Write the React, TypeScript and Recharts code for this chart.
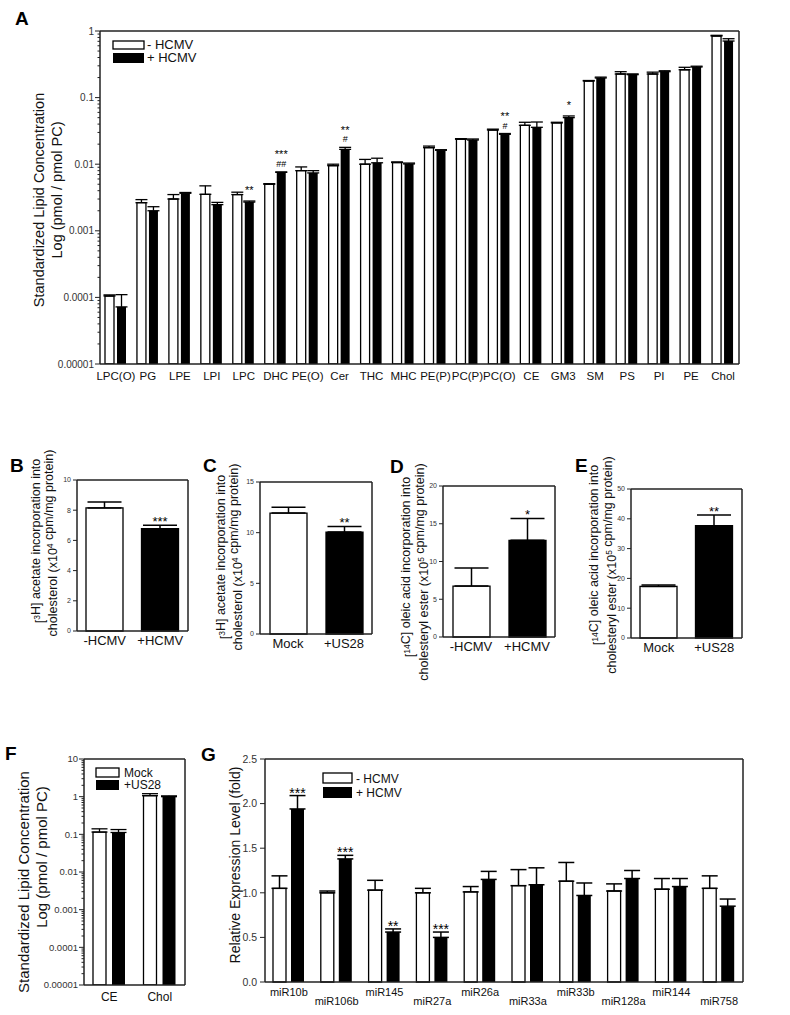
import React from 'react';
import { BarChart, Bar, XAxis, YAxis, ErrorBar, LabelList, Cell, CartesianGrid } from 'recharts';

const FONT = '"Liberation Sans", Arial, Helvetica, sans-serif';
const AXIS = '#222';
const LOG_MIN = 0.00001;

// A: lipid classes, pmol / pmol PC (log)
const lipidClasses = ['LPC(O)', 'PG', 'LPE', 'LPI', 'LPC', 'DHC', 'PE(O)', 'Cer', 'THC', 'MHC', 'PE(P)', 'PC(P)', 'PC(O)', 'CE', 'GM3', 'SM', 'PS', 'PI', 'PE', 'Chol'];
const lipidMock = [0.000105, 0.00264, 0.003, 0.00353, 0.0035, 0.005, 0.008, 0.0095, 0.01, 0.0106, 0.0177, 0.0237, 0.0326, 0.0384, 0.0416, 0.1775, 0.226, 0.226, 0.262, 0.841];
const lipidMockErr = [0.000004, 0.0003, 0.0005, 0.0012, 0.0003, 0.0001, 0.0011, 0.0005, 0.0018, 0.0002, 0.001, 0.0005, 0.001, 0.0042, 0.001, 0.003, 0.019, 0.015, 0.023, 0.02];
const lipidHcmv = [0.000072, 0.002, 0.00366, 0.00247, 0.0027, 0.00755, 0.0074, 0.0167, 0.0105, 0.0101, 0.0162, 0.0231, 0.0281, 0.0358, 0.05, 0.197, 0.221, 0.245, 0.288, 0.707];
const lipidHcmvErr = [0.000038, 0.0003, 0.0001, 0.0002, 0.0001, 0.0001, 0.0006, 0.0012, 0.0018, 0.0003, 0.0003, 0.0008, 0.0008, 0.0072, 0.003, 0.006, 0.006, 0.008, 0.008, 0.059];
const lipidStars = ['', '', '', '', '**', '***', '', '**', '', '', '', '', '**', '', '*', '', '', '', '', ''];
const lipidHash = ['', '', '', '', '', '##', '', '#', '', '', '', '', '#', '', '', '', '', '', '', ''];
const lipidDecades = [0.00001, 0.0001, 0.001, 0.01, 0.1, 1];

// B-E: radiolabel incorporation
const hcmvGroups = ['-HCMV', '+HCMV'];
const us28Groups = ['Mock', '+US28'];
const acetateHcmv = [8.15, 6.77];
const acetateHcmvErr = [0.4, 0.23];
const acetateHcmvStars = ['', '***'];
const acetateUs28 = [11.93, 10.06];
const acetateUs28Err = [0.57, 0.55];
const acetateUs28Stars = ['', '**'];
const oleicHcmv = [6.75, 12.8];
const oleicHcmvErr = [2.4, 2.9];
const oleicHcmvStars = ['', '*'];
const oleicUs28 = [17.3, 37.7];
const oleicUs28Err = [0.5, 3.6];
const oleicUs28Stars = ['', '**'];

// F: US28 lipids
const us28Lipids = ['CE', 'Chol'];
const us28Mock = [0.115, 1.06];
const us28MockErr = [0.025, 0.14];
const us28Pos = [0.112, 1.0];
const us28PosErr = [0.022, 0.05];
const us28Decades = [0.00001, 0.0001, 0.001, 0.01, 0.1, 1, 10];

// G: miRNA expression
const mirs = ['miR10b', 'miR106b', 'miR145', 'miR27a', 'miR26a', 'miR33a', 'miR33b', 'miR128a', 'miR144', 'miR758'];
const mirMock = [1.05, 1.0, 1.03, 1.0, 1.01, 1.08, 1.13, 1.02, 1.04, 1.05];
const mirMockErr = [0.14, 0.02, 0.11, 0.05, 0.06, 0.18, 0.21, 0.08, 0.12, 0.14];
const mirHcmv = [1.94, 1.38, 0.56, 0.5, 1.15, 1.09, 0.97, 1.16, 1.07, 0.85];
const mirHcmvErr = [0.15, 0.04, 0.035, 0.06, 0.09, 0.19, 0.14, 0.09, 0.09, 0.08];
const mirStars = ['***', '***', '**', '***', '', '', '', '', '', ''];
const mirTicks = [0, 0.5, 1, 1.5, 2, 2.5];

const withMinorTicks = (decades: number[]) => {
  const out: number[] = [];
  decades.forEach((d, i) => {
    out.push(d);
    if (i < decades.length - 1) for (let k = 2; k < 10; k++) out.push(d * k);
  });
  return out;
};

const fmtLog = (v: number) => {
  const e = Math.round(Math.log10(v));
  return e >= 0 ? String(Math.round(v)) : v.toFixed(-e);
};

function LogTick({ x, y, payload, fontSize }: any) {
  const v = payload.value;
  const e = Math.log10(v);
  const major = Math.abs(e - Math.round(e)) < 1e-6;
  return (
    <g>
      <line x1={x - (major ? 5 : 2.5)} x2={x} y1={y} y2={y} stroke={AXIS} strokeWidth={1} />
      {major && (
        <text x={x - 6} y={y} dy="0.35em" textAnchor="end" fontSize={fontSize} fill="#333">
          {fmtLog(v)}
        </text>
      )}
    </g>
  );
}

function StaggerTick({ x, y, payload, index }: any) {
  const i = index ?? payload.index;
  return (
    <text x={x} y={y + (i % 2 ? 23 : 14)} textAnchor="middle" fontSize={11} fill="#111">
      {payload.value}
    </text>
  );
}

// star / hash annotations sitting above the upper error cap
const sigContent =
  (vals: number[], errs: number[], stars: string[], hashes: string[] | null, o: { log?: boolean; fs: number; lift: number }) =>
  (props: any) => {
    const i = props.index;
    const s = stars[i];
    const h = hashes ? hashes[i] : '';
    if (!s && !h) return null;
    const vb = props.viewBox ?? props;
    const { x, y, width, height } = vb;
    const v = vals[i];
    const e = errs[i];
    const top = o.log
      ? y - ((Math.log10(v + e) - Math.log10(v)) * height) / (Math.log10(v) - Math.log10(LOG_MIN))
      : y - (e / v) * height;
    const cx = x + width / 2;
    const hashY = top - 5;
    const starY = h ? hashY - 8.5 : top + o.lift;
    return (
      <g>
        {h && (
          <text x={cx} y={hashY} textAnchor="middle" fontSize={9} fill="#000">
            {h}
          </text>
        )}
        {s && (
          <text x={cx} y={starY} textAnchor="middle" fontSize={o.fs} fill="#000">
            {s}
          </text>
        )}
      </g>
    );
  };

const frame = { stroke: AXIS, strokeWidth: 1.5 };

// top and right edges of the plot box
const Frame = () => (
  <CartesianGrid
    stroke={AXIS}
    strokeWidth={1.5}
    strokeDasharray=""
    horizontalCoordinatesGenerator={({ offset }: any) => [offset.top]}
    verticalCoordinatesGenerator={({ offset }: any) => [offset.left + offset.width]}
  />
);

function LipidPanel() {
  const data = lipidClasses.map((name, i) => ({
    name,
    mock: lipidMock[i],
    mockErr: [0, lipidMockErr[i]],
    hcmv: lipidHcmv[i],
    hcmvErr: [0, lipidHcmvErr[i]],
  }));
  return (
    <BarChart width={745} height={400} data={data} margin={{ top: 31, right: 6, left: 0, bottom: 0 }} barSize={9} barGap={3}>
      {Frame()}
      <XAxis dataKey="name" interval={0} height={36} tickSize={0} tickMargin={8} tickLine={false} axisLine={frame} tick={{ fontSize: 11.5, fill: '#111' }} />
      <YAxis
        scale="log"
        domain={[LOG_MIN, 1]}
        allowDataOverflow
        ticks={withMinorTicks(lipidDecades)}
        interval={0}
        width={100}
        tickSize={0}
        tickMargin={0}
        tickLine={false}
        axisLine={frame}
        tick={(p: any) => <LogTick {...p} fontSize={10} />}
      />
      <Bar dataKey="mock" fill="#fff" stroke="#000" strokeWidth={1.3} isAnimationActive={false}>
        <ErrorBar dataKey="mockErr" width={6} stroke="#000" strokeWidth={1.3} direction="y" />
      </Bar>
      <Bar dataKey="hcmv" fill="#000" isAnimationActive={false}>
        <ErrorBar dataKey="hcmvErr" width={6} stroke="#000" strokeWidth={1.3} direction="y" />
        <LabelList dataKey="hcmv" content={sigContent(lipidHcmv, lipidHcmvErr, lipidStars, lipidHash, { log: true, fs: 11, lift: -7 })} />
      </Bar>
    </BarChart>
  );
}

function IncorporationPanel({ width, height, margin, yWidth, xHeight, groups, vals, errs, stars, ticks }: any) {
  const data = groups.map((name: string, i: number) => ({ name, v: vals[i], err: [0, errs[i]] }));
  const max = ticks[ticks.length - 1];
  return (
    <BarChart width={width} height={height} data={data} margin={margin} barSize={37}>
      {Frame()}
      <XAxis dataKey="name" height={xHeight} tickSize={0} tickMargin={5} tickLine={false} axisLine={frame} tick={{ fontSize: 13, fill: '#111' }} />
      <YAxis
        domain={[0, max]}
        ticks={ticks}
        interval={0}
        width={yWidth}
        tickSize={4}
        tickMargin={2}
        axisLine={frame}
        tickLine={{ stroke: AXIS }}
        tick={{ fontSize: 7, fill: '#333' }}
      />
      <Bar dataKey="v" stroke="#000" strokeWidth={1.3} isAnimationActive={false}>
        {data.map((_: any, i: number) => (
          <Cell key={i} fill={i === 0 ? '#fff' : '#000'} />
        ))}
        <ErrorBar dataKey="err" width={17} stroke="#000" strokeWidth={1.5} direction="y" />
        <LabelList dataKey="v" content={sigContent(vals, errs, stars, null, { fs: 13, lift: 1 })} />
      </Bar>
    </BarChart>
  );
}

function Us28LipidPanel() {
  const data = us28Lipids.map((name, i) => ({
    name,
    mock: us28Mock[i],
    mockErr: [0, us28MockErr[i]],
    us28: us28Pos[i],
    us28Err: [0, us28PosErr[i]],
  }));
  return (
    <BarChart width={195} height={275} data={data} margin={{ top: 19, right: 10, left: 0, bottom: 0 }} barSize={13} barGap={6}>
      {Frame()}
      <XAxis dataKey="name" height={30} tickSize={0} tickMargin={7} tickLine={false} axisLine={frame} tick={{ fontSize: 12, fill: '#111' }} />
      <YAxis
        scale="log"
        domain={[LOG_MIN, 10]}
        allowDataOverflow
        ticks={withMinorTicks(us28Decades)}
        interval={0}
        width={84}
        tickSize={0}
        tickMargin={0}
        tickLine={false}
        axisLine={frame}
        tick={(p: any) => <LogTick {...p} fontSize={9.5} />}
      />
      <Bar dataKey="mock" fill="#fff" stroke="#000" strokeWidth={1.3} isAnimationActive={false}>
        <ErrorBar dataKey="mockErr" width={8} stroke="#000" strokeWidth={1.3} direction="y" />
      </Bar>
      <Bar dataKey="us28" fill="#000" isAnimationActive={false}>
        <ErrorBar dataKey="us28Err" width={8} stroke="#000" strokeWidth={1.3} direction="y" />
      </Bar>
    </BarChart>
  );
}

function MirPanel() {
  const data = mirs.map((name, i) => ({
    name,
    mock: mirMock[i],
    mockErr: [0, mirMockErr[i]],
    hcmv: mirHcmv[i],
    hcmvErr: [0, mirHcmvErr[i]],
  }));
  return (
    <BarChart width={550} height={275} data={data} margin={{ top: 19, right: 7, left: 0, bottom: 0 }} barSize={13} barGap={5}>
      {Frame()}
      <XAxis dataKey="name" interval={0} height={33} tickSize={0} tickMargin={0} tickLine={false} axisLine={frame} tick={(p: any) => <StaggerTick {...p} />} />
      <YAxis
        domain={[0, 2.5]}
        ticks={mirTicks}
        interval={0}
        width={65}
        tickSize={5}
        tickMargin={3}
        axisLine={frame}
        tickLine={{ stroke: AXIS }}
        tickFormatter={(v: number) => v.toFixed(1)}
        tick={{ fontSize: 10.5, fill: '#333' }}
      />
      <Bar dataKey="mock" fill="#fff" stroke="#000" strokeWidth={1.3} isAnimationActive={false}>
        <ErrorBar dataKey="mockErr" width={8} stroke="#000" strokeWidth={1.5} direction="y" />
      </Bar>
      <Bar dataKey="hcmv" fill="#000" isAnimationActive={false}>
        <ErrorBar dataKey="hcmvErr" width={8} stroke="#000" strokeWidth={1.5} direction="y" />
        <LabelList dataKey="hcmv" content={sigContent(mirHcmv, mirHcmvErr, mirStars, null, { fs: 14, lift: 2 })} />
      </Bar>
    </BarChart>
  );
}

function VTitle({ x, y, fs, children }: any) {
  return (
    <text transform={`translate(${x},${y}) rotate(-90)`} textAnchor="middle" fontSize={fs} fill="#111">
      {children}
    </text>
  );
}

const Sup = ({ t, fs }: { t: string; fs: number }) => (
  <>
    <tspan dy={-fs * 0.35} fontSize={fs * 0.68}>
      {t}
    </tspan>
    <tspan dy={fs * 0.35}>{''}</tspan>
  </>
);

function Overlay() {
  const letter = (t: string, x: number, y: number) => (
    <text x={x} y={y} fontSize={19} fontWeight="bold" fill="#000">
      {t}
    </text>
  );
  const legend = (x: number, y: number, w: number, h1: number, gap: number, h2: number, labels: string[], fs: number, tx: number) => (
    <g>
      <rect x={x} y={y} width={w} height={h1} fill="#fff" stroke="#000" strokeWidth={1.3} />
      <rect x={x} y={y + h1 + gap} width={w} height={h2} fill="#000" />
      <text x={tx} y={y + h1} fontSize={fs} fill="#111">
        {labels[0]}
      </text>
      <text x={tx} y={y + h1 + gap + h2 - 1} fontSize={fs} fill="#111">
        {labels[1]}
      </text>
    </g>
  );
  const T = 12.5;
  return (
    <svg width={790} height={1015} style={{ position: 'absolute', left: 0, top: 0, pointerEvents: 'none' }}>
      {letter('A', 15, 25)}
      {letter('B', 10, 472)}
      {letter('C', 203, 472)}
      {letter('D', 390, 473)}
      {letter('E', 575, 472)}
      {letter('F', 5, 760)}
      {letter('G', 201, 761)}

      <VTitle x={44} y={200} fs={14.5}>Standardized Lipid Concentration</VTitle>
      <VTitle x={62} y={190} fs={14.5}>Log (pmol / pmol PC)</VTitle>

      <VTitle x={44} y={541} fs={T}>
        [<Sup t="3" fs={T} />H] acetate incorporation into
      </VTitle>
      <VTitle x={57} y={543} fs={T}>
        cholesterol (x10<Sup t="4" fs={T} /> cpm/mg protein)
      </VTitle>
      <VTitle x={229} y={557} fs={T}>
        [<Sup t="3" fs={T} />H] acetate incorporation into
      </VTitle>
      <VTitle x={242} y={557} fs={T}>
        cholesterol (x10<Sup t="4" fs={T} /> cpm/mg protein)
      </VTitle>
      <VTitle x={414} y={567} fs={T}>
        [<Sup t="14" fs={T} />C] oleic acid incorporation into
      </VTitle>
      <VTitle x={428} y={572} fs={T}>
        cholesteryl ester (x10<Sup t="5" fs={T} /> cpm/mg protein)
      </VTitle>
      <VTitle x={602} y={555} fs={T}>
        [<Sup t="14" fs={T} />C] oleic acid incorporation into
      </VTitle>
      <VTitle x={616} y={565} fs={T}>
        cholesteryl ester (x10<Sup t="5" fs={T} /> cpm/mg protein)
      </VTitle>

      <VTitle x={29} y={882} fs={15}>Standardized Lipid Concentration</VTitle>
      <VTitle x={47} y={857} fs={15}>Log (pmol / pmol PC)</VTitle>
      <VTitle x={240} y={865} fs={14}>Relative Expression Level (fold)</VTitle>

      {legend(113, 41, 31, 8, 4, 10, ['- HCMV', '+ HCMV'], 13, 147)}
      {legend(96, 768, 23, 9, 3, 10, ['Mock', '+US28'], 12, 124)}
      {legend(323, 773, 29, 10, 4, 11, ['- HCMV', '+ HCMV'], 12, 356)}
    </svg>
  );
}

const place = (left: number, top: number): React.CSSProperties => ({ position: 'absolute', left, top });

export default function App() {
  return (
    <div style={{ position: 'absolute', left: 0, top: 0, width: 790, height: 1015, background: '#fff', fontFamily: FONT }}>
      <div style={place(0, 0)}>
        <LipidPanel />
      </div>
      <div style={place(0, 440)}>
        <IncorporationPanel
          width={192}
          height={220}
          margin={{ top: 40, right: 4, left: 0, bottom: 0 }}
          yWidth={77}
          xHeight={29}
          groups={hcmvGroups}
          vals={acetateHcmv}
          errs={acetateHcmvErr}
          stars={acetateHcmvStars}
          ticks={[0, 2, 4, 6, 8, 10]}
        />
      </div>
      <div style={place(185, 440)}>
        <IncorporationPanel
          width={190}
          height={225}
          margin={{ top: 42, right: 3, left: 0, bottom: 0 }}
          yWidth={75}
          xHeight={31}
          groups={us28Groups}
          vals={acetateUs28}
          errs={acetateUs28Err}
          stars={acetateUs28Stars}
          ticks={[0, 5, 10, 15]}
        />
      </div>
      <div style={place(370, 440)}>
        <IncorporationPanel
          width={190}
          height={225}
          margin={{ top: 46, right: 5, left: 0, bottom: 0 }}
          yWidth={73}
          xHeight={28}
          groups={hcmvGroups}
          vals={oleicHcmv}
          errs={oleicHcmvErr}
          stars={oleicHcmvStars}
          ticks={[0, 5, 10, 15, 20]}
        />
      </div>
      <div style={place(560, 440)}>
        <IncorporationPanel
          width={190}
          height={225}
          margin={{ top: 49, right: 8, left: 0, bottom: 0 }}
          yWidth={71}
          xHeight={27}
          groups={us28Groups}
          vals={oleicUs28}
          errs={oleicUs28Err}
          stars={oleicUs28Stars}
          ticks={[0, 10, 20, 30, 40, 50]}
        />
      </div>
      <div style={place(0, 740)}>
        <Us28LipidPanel />
      </div>
      <div style={place(200, 740)}>
        <MirPanel />
      </div>
      <Overlay />
    </div>
  );
}
